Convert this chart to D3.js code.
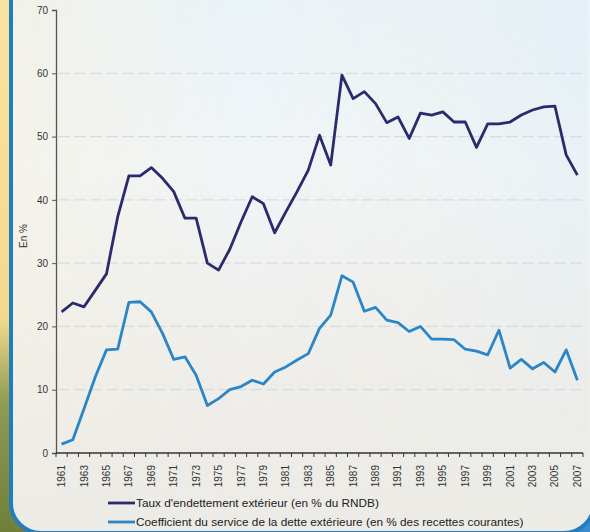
<!DOCTYPE html>
<html><head><meta charset="utf-8">
<script src="https://cdn.jsdelivr.net/npm/d3@7/dist/d3.min.js"></script>
<style>body{margin:0;padding:0;overflow:hidden;background:#fff}svg{display:block}</style>
</head><body>
<script>
const years = d3.range(1961, 2008).map(String);
const tauxEndettement = [22.3,23.7,23.1,25.7,28.3,37.3,43.8,43.8,45.1,43.4,41.3,37.1,37.1,30.0,28.9,32.2,36.5,40.5,39.4,34.8,38.1,41.3,44.7,50.2,45.5,59.7,56.0,57.1,55.2,52.2,53.1,49.7,53.7,53.4,53.9,52.3,52.3,48.3,52.0,52.0,52.3,53.4,54.2,54.7,54.8,47.1,43.9];
const coefService = [1.4,2.1,7.0,12.0,16.3,16.4,23.8,23.9,22.3,18.9,14.8,15.2,12.3,7.5,8.6,10.0,10.5,11.5,10.9,12.8,13.6,14.7,15.7,19.7,21.8,28.0,27.0,22.4,23.0,21.0,20.6,19.2,20.0,18.0,18.0,17.9,16.4,16.1,15.5,19.4,13.4,14.8,13.3,14.3,12.8,16.3,11.5];
const yTicks = [0,10,20,30,40,50,60,70];
const seriesNames = ["Taux d'endettement extérieur (en % du RNDB)","Coefficient du service de la dette extérieure (en % des recettes courantes)"];
const seriesColors = ["#2b2a6c","#2a86c6"];
const yTitle = "En %";

const W = 590, H = 532;
const svg = d3.select("body").append("svg").attr("width", W).attr("height", H)
  .style("font-family", "'Liberation Sans', Arial, sans-serif");
const defs = svg.append("defs");

const bgOut = defs.append("linearGradient").attr("id","bgOut").attr("x1",0).attr("y1",0).attr("x2",0).attr("y2",1);
bgOut.append("stop").attr("offset","0%").attr("stop-color","#f9e3a0");
bgOut.append("stop").attr("offset","60%").attr("stop-color","#f3d98c");
bgOut.append("stop").attr("offset","76%").attr("stop-color","#8f9a52");
bgOut.append("stop").attr("offset","100%").attr("stop-color","#6f7f3a");
const panelG = defs.append("linearGradient").attr("id","panelG").attr("x1",0).attr("y1",0).attr("x2",0).attr("y2",1);
panelG.append("stop").attr("offset","0%").attr("stop-color","#e9f3f9");
panelG.append("stop").attr("offset","35%").attr("stop-color","#f1f5f7");
panelG.append("stop").attr("offset","70%").attr("stop-color","#efeeea");
panelG.append("stop").attr("offset","100%").attr("stop-color","#ecebe6");
const panelH = defs.append("linearGradient").attr("id","panelH").attr("x1",0).attr("y1",0).attr("x2",1).attr("y2",0);
panelH.append("stop").attr("offset","0%").attr("stop-color","#f8f0dc").attr("stop-opacity",0.55);
panelH.append("stop").attr("offset","40%").attr("stop-color","#f8f0dc").attr("stop-opacity",0);
panelH.append("stop").attr("offset","100%").attr("stop-color","#dcecf6").attr("stop-opacity",0.45);
const fadeV = defs.append("linearGradient").attr("id","fadeV").attr("x1",0).attr("y1",0).attr("x2",0).attr("y2",1);
fadeV.append("stop").attr("offset","0%").attr("stop-color","#fff").attr("stop-opacity",1);
fadeV.append("stop").attr("offset","60%").attr("stop-color","#fff").attr("stop-opacity",0.6);
fadeV.append("stop").attr("offset","100%").attr("stop-color","#fff").attr("stop-opacity",0);
const mask = defs.append("mask").attr("id","fadeMask");
mask.append("rect").attr("x",0).attr("y",0).attr("width",W).attr("height",H).attr("fill","url(#fadeV)");

svg.append("rect").attr("width",W).attr("height",H).attr("fill","url(#bgOut)");
svg.append("rect").attr("x",480).attr("y",505).attr("width",110).attr("height",27).attr("fill","#3a8ccc");
svg.append("rect").attr("x",11).attr("y",-30).attr("width",583).attr("height",563).attr("rx",30)
  .attr("fill","url(#panelG)").attr("stroke","#1f7dc0").attr("stroke-width",4);
svg.append("rect").attr("x",13).attr("y",-30).attr("width",575).attr("height",560)
  .attr("fill","url(#panelH)").attr("mask","url(#fadeMask)");

const x = d3.scaleBand().domain(years).range([56, 583]).padding(0);
const y = d3.scaleLinear().domain([0, 70]).range([453, 10]);

// gridlines
svg.append("g").selectAll("line").data(yTicks.filter(d => d > 0 && d < 70)).join("line")
  .attr("x1", 58).attr("x2", 583).attr("y1", d => y(d)).attr("y2", d => y(d))
  .attr("stroke", "#d9dcdf").attr("stroke-width", 1.2).attr("stroke-dasharray", "12,4");

// y axis
const yAxis = svg.append("g").attr("transform", "translate(56,0)")
  .call(d3.axisLeft(y).tickValues(yTicks).tickSize(4).tickPadding(4));
yAxis.select(".domain").attr("stroke", "#555").attr("stroke-width", 1.3);
yAxis.selectAll(".tick line").attr("stroke", "#555");
yAxis.selectAll("text").attr("fill", "#333").style("font-size", "10px")
  .style("font-family", "'Liberation Sans', Arial, sans-serif");

// x axis
const xAxisG = svg.append("g").attr("transform", "translate(0,453)");
xAxisG.append("line").attr("x1", 56).attr("x2", 583).attr("stroke", "#333").attr("stroke-width", 1.3);
const bounds = years.map(d => x(d)).concat([x(years[years.length-1]) + x.bandwidth()]);
xAxisG.selectAll("line.tk").data(bounds).join("line").attr("class","tk")
  .attr("x1", d => d).attr("x2", d => d).attr("y1", 0).attr("y2", 4)
  .attr("stroke", "#333").attr("stroke-width", 1);
xAxisG.selectAll("text").data(years.filter((d, i) => i % 2 === 0)).join("text")
  .attr("transform", d => `translate(${x(d) + x.bandwidth()/2 + 3.5},12) rotate(-90)`)
  .attr("text-anchor", "end").attr("fill", "#333").style("font-size", "10px")
  .text(d => d);

svg.append("text").attr("transform", "translate(27,236) rotate(-90)")
  .attr("text-anchor", "middle").attr("fill", "#333").style("font-size", "10px").text(yTitle);

const line = d3.line().x((d, i) => x(years[i]) + x.bandwidth()/2).y(d => y(d));
[tauxEndettement, coefService].forEach((s, k) => {
  svg.append("path").datum(s).attr("d", line).attr("fill", "none")
    .attr("stroke", seriesColors[k]).attr("stroke-width", 2.8).attr("stroke-linejoin", "round");
});

// legend
const lg = svg.append("g");
seriesNames.forEach((n, k) => {
  const ly = 503 + k * 19;
  lg.append("line").attr("x1", 108).attr("x2", 135).attr("y1", ly).attr("y2", ly)
    .attr("stroke", seriesColors[k]).attr("stroke-width", 2.8);
  lg.append("text").attr("x", 136).attr("y", ly + 4).attr("fill", "#222")
    .style("font-size", "11.8px").text(n);
});
</script>
</body></html>
